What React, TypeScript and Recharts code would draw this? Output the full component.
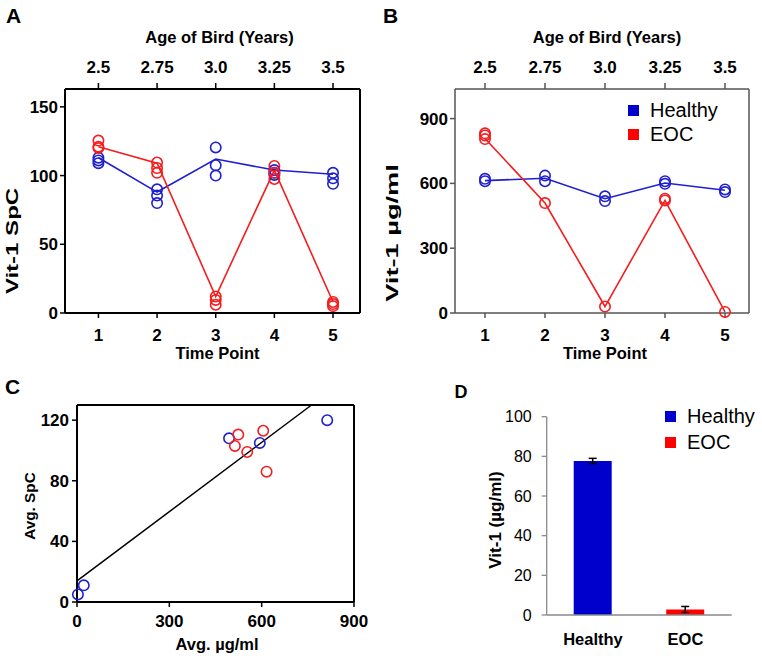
import React from "react";
import {
  ScatterChart,
  Scatter,
  BarChart,
  Bar,
  ErrorBar,
  XAxis,
  YAxis,
  Label,
  Legend,
  ReferenceLine,
} from "recharts";

const timePoints = [1, 2, 3, 4, 5];
const ageLabels = ["2.5", "2.75", "3.0", "3.25", "3.5"];

// A: Vit-1 SpC, replicate circles per time point + the connecting line
const healthySpc = [[113, 111, 109], [90, 85.5, 80], [120.5, 107.5, 100], [104, 102, 100.5], [102, 98, 94]];
const eocSpc = [[125.5, 121, 120], [109.5, 105.5, 102], [12, 9.5, 6], [107, 102, 97.5], [8, 6.5, 5]];
const healthySpcLine = [113, 88, 112, 104, 101];
const eocSpcLine = [121, 109, 12, 104, 8];

// B: Vit-1 ug/ml
const healthyUg = [[621, 610], [636, 610], [540, 518], [610, 598], [572, 560]];
const eocUg = [[832, 822, 805], [509], [30], [529, 521], [5]];
const healthyUgLine = [613, 624, 529, 602, 568];
const eocUgLine = [808, 509, 30, 521, 5];

// C: averages, SpC vs ug/ml
const healthyAvgUg = [3, 22, 494, 594, 813];
const healthyAvgSpc = [5, 11, 108, 105, 120];
const eocAvgUg = [524, 513, 553, 605, 616];
const eocAvgSpc = [110.5, 103, 99, 113, 86];
const fitUg = [0, 762];
const fitSpc = [13.9, 130];

// D: group means
const groups = ["Healthy", "EOC"];
const groupMeans = [77.7, 2.8];
const groupErrors = [1.3, 1.5];

const legendNames = ["Healthy", "EOC"];
const legendColors = ["#0000cc", "#ff0000"];

const BLUE = "#1f1fd0";
const RED = "#f51d1d";
const FONT = "'Liberation Sans', Arial, sans-serif";

const reps = (vals: number[][]) => vals.flatMap((row, i) => row.map((y) => ({ x: timePoints[i], y })));
const series = (vals: number[]) => vals.map((y, i) => ({ x: timePoints[i], y }));
const pairs = (xs: number[], ys: number[]) => xs.map((x, i) => ({ x, y: ys[i] }));

const ring = (color: string) => (p: any) => (
  <circle cx={p.cx} cy={p.cy} r={5.2} fill="none" stroke={color} strokeWidth={1.6} />
);
const noDot = () => <g />;

const boldTick = { fontSize: 17, fontWeight: 700, fill: "#000" };

function Title({ x, y, text, size, bold = true, rotate = false, stretch = 1 }: any) {
  return (
    <div
      style={{
        position: "absolute",
        left: x,
        top: y,
        transform: `translate(-50%, -50%)${rotate ? " rotate(-90deg)" : ""} scaleX(${stretch})`,
        fontSize: size,
        fontWeight: bold ? 700 : 400,
        lineHeight: 1,
        whiteSpace: "nowrap",
        color: "#000",
      }}
    >
      {text}
    </div>
  );
}

function LegendBox({ rowHeight }: { rowHeight: number }) {
  return (
    <div style={{ fontFamily: FONT, fontSize: 20, color: "#000" }}>
      {legendNames.map((n, i) => (
        <div key={n} style={{ display: "flex", alignItems: "center", height: rowHeight }}>
          <span style={{ display: "inline-block", width: 11, height: 11, background: legendColors[i], marginRight: 11 }} />
          <span>{n}</span>
        </div>
      ))}
    </div>
  );
}

function TimeCourse(props: any) {
  const { left, width, margin, xDomain, yDomain, yTicks, axisColor, axisWidth, healthy, eoc, healthyLine, eocLine, topDx, bottomDx, legend } = props;
  const axisLine = { stroke: axisColor, strokeWidth: axisWidth };
  const tickLine = { stroke: axisColor, strokeWidth: 1.5 };
  return (
    <ScatterChart width={width} height={370} margin={margin} style={{ position: "absolute", left, top: 0 }}>
      {/* age axis has no series of its own, so its domain is pinned */}
      <XAxis
        xAxisId="top"
        orientation="top"
        type="number"
        dataKey="x"
        domain={xDomain}
        allowDataOverflow
        ticks={timePoints}
        tickFormatter={(v: number) => ageLabels[timePoints.indexOf(v)]}
        height={58}
        tickSize={6}
        tickMargin={10}
        axisLine={axisLine}
        tickLine={tickLine}
        tick={boldTick}
      >
        <Label value="Age of Bird (Years)" position="insideTop" offset={0} dx={topDx} fill="#000" fontSize={16.5} fontWeight={700} />
      </XAxis>
      <XAxis
        xAxisId="bottom"
        type="number"
        dataKey="x"
        domain={xDomain}
        ticks={timePoints}
        height={46}
        tickSize={5}
        tickMargin={11}
        axisLine={axisLine}
        tickLine={tickLine}
        tick={boldTick}
      >
        <Label value="Time Point" position="insideBottom" offset={0} dx={bottomDx} fill="#000" fontSize={16.5} fontWeight={700} />
      </XAxis>
      <YAxis
        yAxisId="left"
        type="number"
        dataKey="y"
        domain={yDomain}
        ticks={yTicks}
        width={45}
        tickSize={5}
        tickMargin={2}
        axisLine={axisLine}
        tickLine={tickLine}
        tick={boldTick}
      />
      <ReferenceLine xAxisId="bottom" yAxisId="left" x={xDomain[1]} stroke={axisColor} strokeWidth={axisWidth} />
      <Scatter xAxisId="bottom" yAxisId="left" data={series(healthyLine)} line={{ stroke: BLUE, strokeWidth: 1.6 }} shape={noDot} legendType="none" isAnimationActive={false} />
      <Scatter xAxisId="bottom" yAxisId="left" data={series(eocLine)} line={{ stroke: RED, strokeWidth: 1.6 }} shape={noDot} legendType="none" isAnimationActive={false} />
      <Scatter xAxisId="bottom" yAxisId="left" name="Healthy" data={reps(healthy)} shape={ring(BLUE)} isAnimationActive={false} />
      <Scatter xAxisId="bottom" yAxisId="left" name="EOC" data={reps(eoc)} shape={ring(RED)} isAnimationActive={false} />
      {legend && (
        <Legend
          layout="vertical"
          align="center"
          verticalAlign="middle"
          wrapperStyle={{ top: 98, left: 248, width: "auto" }}
          content={() => <LegendBox rowHeight={24.5} />}
        />
      )}
    </ScatterChart>
  );
}

export default function App() {
  const barRows = groups.map((g, i) => ({ x: i + 0.5, [g]: groupMeans[i], [g + "Err"]: groupErrors[i] }));
  const grey = { stroke: "#8a8a8a", strokeWidth: 1.3 };
  return (
    <div style={{ position: "absolute", left: 0, top: 0, width: 762, height: 660, background: "#fff", fontFamily: FONT }}>
      <TimeCourse
        left={0}
        width={380}
        margin={{ top: 31, right: 20, bottom: 11, left: 20 }}
        xDomain={[0.43, 5.46]}
        yDomain={[0, 163]}
        yTicks={[0, 50, 100, 150]}
        axisColor="#000"
        axisWidth={2}
        healthy={healthySpc}
        eoc={eocSpc}
        healthyLine={healthySpcLine}
        eocLine={eocSpcLine}
        topDx={7}
        bottomDx={5}
      />
      <TimeCourse
        left={380}
        width={382}
        margin={{ top: 31, right: 13, bottom: 11, left: 30 }}
        xDomain={[0.5, 5.4]}
        yDomain={[0, 1037]}
        yTicks={[0, 300, 600, 900]}
        axisColor="#555"
        axisWidth={1.5}
        healthy={healthyUg}
        eoc={eocUg}
        healthyLine={healthyUgLine}
        eocLine={eocUgLine}
        topDx={5}
        bottomDx={3}
        legend
      />

      <ScatterChart width={380} height={320} margin={{ top: 65, right: 26, bottom: 10, left: 32 }} style={{ position: "absolute", left: 0, top: 340 }}>
        <XAxis
          type="number"
          dataKey="x"
          domain={[0, 900]}
          ticks={[0, 300, 600, 900]}
          height={48}
          tickSize={5}
          tickMargin={8}
          axisLine={{ stroke: "#000", strokeWidth: 2 }}
          tickLine={{ stroke: "#000", strokeWidth: 1.5 }}
          tick={boldTick}
        >
          <Label value="Avg. µg/ml" position="insideBottom" offset={0} dx={1.5} fill="#000" fontSize={16.5} fontWeight={700} />
        </XAxis>
        <YAxis
          type="number"
          dataKey="y"
          domain={[0, 130]}
          ticks={[0, 40, 80, 120]}
          width={45}
          tickSize={5}
          tickMargin={3}
          axisLine={{ stroke: "#000", strokeWidth: 2 }}
          tickLine={{ stroke: "#000", strokeWidth: 1.5 }}
          tick={boldTick}
        />
        <ReferenceLine y={130} stroke="#000" strokeWidth={2} />
        <ReferenceLine x={900} stroke="#000" strokeWidth={2} />
        <ReferenceLine
          segment={[
            { x: fitUg[0], y: fitSpc[0] },
            { x: fitUg[1], y: fitSpc[1] },
          ]}
          stroke="#000"
          strokeWidth={1.5}
        />
        <Scatter data={pairs(healthyAvgUg, healthyAvgSpc)} shape={ring(BLUE)} isAnimationActive={false} />
        <Scatter data={pairs(eocAvgUg, eocAvgSpc)} shape={ring(RED)} isAnimationActive={false} />
      </ScatterChart>

      <BarChart width={382} height={320} data={barRows} margin={{ top: 76.7, right: 30.3, bottom: 1, left: 116.7 }} style={{ position: "absolute", left: 380, top: 340 }}>
        <XAxis type="number" dataKey="x" domain={[0, 2]} allowDataOverflow ticks={[0, 1, 2]} tick={false} height={5} tickSize={5} axisLine={grey} tickLine={grey} />
        <XAxis
          xAxisId="lbl"
          type="number"
          dataKey="x"
          domain={[0, 2]}
          allowDataOverflow
          ticks={[0.5, 1.5]}
          tickFormatter={(v: number) => groups[Math.floor(v)]}
          height={39}
          tickSize={0}
          tickMargin={13}
          axisLine={false}
          tickLine={false}
          tick={{ fontSize: 16.5, fontWeight: 700, fill: "#000" }}
        />
        <YAxis
          type="number"
          domain={[0, 100]}
          allowDataOverflow
          ticks={[0, 20, 40, 60, 80, 100]}
          width={50}
          tickSize={5}
          tickMargin={10}
          axisLine={grey}
          tickLine={grey}
          tick={{ fontSize: 16, fill: "#000" }}
        />
        <Bar dataKey="Healthy" stackId="g" fill="#0000cc" barSize={38} isAnimationActive={false}>
          <ErrorBar dataKey="HealthyErr" width={4} stroke="#000" strokeWidth={1.5} />
        </Bar>
        <Bar dataKey="EOC" stackId="g" fill="#ff0000" barSize={38} isAnimationActive={false}>
          <ErrorBar dataKey="EOCErr" width={4} stroke="#000" strokeWidth={1.5} />
        </Bar>
        <Legend
          layout="vertical"
          align="center"
          verticalAlign="middle"
          wrapperStyle={{ top: 63, left: 285, width: "auto" }}
          content={() => <LegendBox rowHeight={26} />}
        />
      </BarChart>

      <Title x={13.5} y={14.5} text="A" size={21} />
      <Title x={390.5} y={14.5} text="B" size={21} />
      <Title x={12.5} y={385.5} text="C" size={21} />
      <Title x={461} y={391.5} text="D" size={18} />
      <Title x={13} y={241} text="Vit-1 SpC" size={16} rotate stretch={1.5} />
      <Title x={393} y={233} text="Vit-1 µg/ml" size={16} rotate stretch={1.7} />
      <Title x={30} y={506} text="Avg. SpC" size={15.3} rotate />
      <Title x={495} y={520} text="Vit-1 (µg/ml)" size={17} rotate />
    </div>
  );
}
